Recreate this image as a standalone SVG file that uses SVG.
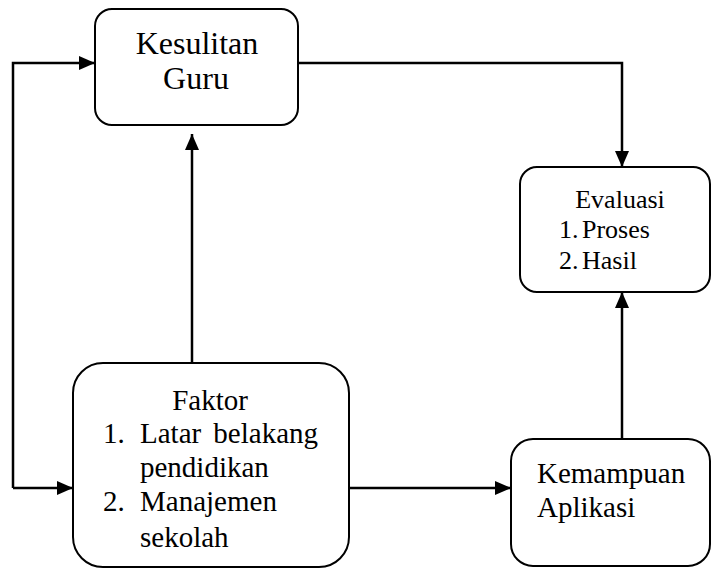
<svg xmlns="http://www.w3.org/2000/svg" width="712" height="568" viewBox="0 0 712 568">
<style>
.box{fill:#fff;stroke:#000;stroke-width:2}
text{font-family:'Liberation Serif','Times New Roman',Times,'DejaVu Serif',serif;fill:#000}
.t{font-size:29px}
.b{font-size:32px}
.s{font-size:26px}
.c{fill:none;stroke:#000;stroke-width:2.5}
</style>
<defs>
<marker id="ah" viewBox="0 0 16 14" refX="16" refY="7" markerWidth="16" markerHeight="14" markerUnits="userSpaceOnUse" orient="auto">
<path d="M0,0 L16,7 L0,14 Z" fill="#000"/>
</marker>
</defs>
<g id="connectors">
<path class="c" d="M13,488 L13,63 L95,63" marker-end="url(#ah)"/>
<path class="c" d="M13,488 L73,488" marker-end="url(#ah)"/>
<path class="c" d="M192,363 L192,134" marker-end="url(#ah)"/>
<path class="c" d="M298,63 L622,63 L622,167" marker-end="url(#ah)"/>
<path class="c" d="M349,488 L511,488" marker-end="url(#ah)"/>
<path class="c" d="M622,439 L622,292" marker-end="url(#ah)"/>
</g>
<g id="kesulitan">
<rect class="box" x="95" y="9" width="203" height="116" rx="17"/>
<text class="b" x="197" y="54" text-anchor="middle">Kesulitan</text>
<text class="b" x="196" y="89" text-anchor="middle">Guru</text>
</g>
<g id="evaluasi">
<rect class="box" x="520" y="167" width="190" height="125" rx="17"/>
<text class="s" x="620" y="208" text-anchor="middle">Evaluasi</text>
<text class="s" x="559" y="238">1.</text>
<text class="s" x="582" y="238">Proses</text>
<text class="s" x="559" y="269">2.</text>
<text class="s" x="582" y="269">Hasil</text>
</g>
<g id="faktor">
<rect class="box" x="73" y="363" width="276" height="204" rx="30"/>
<text class="t" x="210" y="410" text-anchor="middle">Faktor</text>
<text class="t" x="103" y="443">1.</text>
<text class="t" x="140" y="443">Latar</text>
<text class="t" x="318" y="443" text-anchor="end">belakang</text>
<text class="t" x="140" y="477">pendidikan</text>
<text class="t" x="103" y="511">2.</text>
<text class="t" x="140" y="511">Manajemen</text>
<text class="t" x="140" y="547">sekolah</text>
</g>
<g id="kemampuan">
<rect class="box" x="511" y="439" width="199" height="127" rx="22"/>
<text class="t" x="537" y="483">Kemampuan</text>
<text class="t" x="537" y="517">Aplikasi</text>
</g>
</svg>
